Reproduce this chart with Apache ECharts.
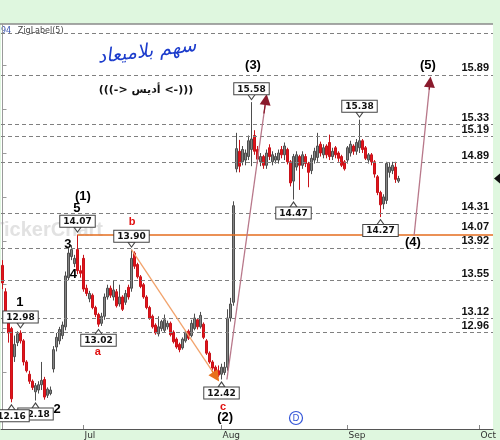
<!DOCTYPE html>
<html><head><meta charset="utf-8">
<script src="https://cdn.jsdelivr.net/npm/echarts@6/dist/echarts.min.js"></script>
<style>html,body{margin:0;padding:0;background:#dff7df;}#c{width:500px;height:440px;}</style>
</head><body><div id="c"></div>
<script>
// ---- trading days (two half-day bars per day) ----
const monthNames = ['Jun','Jul','Aug','Sep','Oct'];
const juneDays = [3,4,5,6,9,10,11,12,23,24,25,26,27,30];
const julyDays = [1,2,3,4,7,8,9,10,11,14,15,16,17,18,21,22,23,24,25,28,29,30,31];
const augDays  = [1,4,5,6,7,8,11,12,13,14,15,18,19,20,21,22,25,26,27,28,29];
const sepDays  = [1,2,3,4,5,8,9,10,11,12,15,16,17,18,19,22,23,24,25,26,29,30];
const octDays  = [1,2,3];

// ---- candles: [open, close, low, high] ----
const candles = [
 [13.72,13.52,13.45,13.78],[13.42,13.15,13.10,13.46],[13.12,12.95,12.84,13.14],[13.00,12.20,12.16,13.02],
 [12.68,12.82,12.62,12.92],[12.84,12.94,12.80,12.97],[12.95,12.86,12.83,12.98],[12.86,12.62,12.58,12.88],
 [12.62,12.52,12.50,12.64],[12.48,12.40,12.37,12.52],[12.40,12.33,12.30,12.42],[12.28,12.35,12.18,12.38],
 [12.30,12.36,12.26,12.40],[12.36,12.41,12.30,12.62],[12.42,12.22,12.19,12.45],[12.24,12.31,12.21,12.33],
 [12.26,12.30,12.24,12.34],[12.54,12.76,12.50,12.80],[12.79,12.90,12.74,12.95],[12.86,12.99,12.82,13.02],
 [12.92,13.04,12.88,13.08],[13.02,13.60,12.98,13.65],[13.58,13.86,13.55,13.92],[13.82,13.90,13.78,13.95],
 [13.74,13.80,13.70,13.84],[13.90,13.66,13.62,14.07],[13.66,13.63,13.58,13.72],[13.80,13.45,13.42,13.84],
 [13.46,13.40,13.37,13.50],[13.34,13.40,13.30,13.43],[13.38,13.24,13.22,13.40],[13.24,13.16,13.13,13.26],
 [13.16,13.05,13.02,13.18],[13.06,13.14,13.03,13.18],[13.14,13.36,13.10,13.40],[13.36,13.46,13.33,13.50],
 [13.46,13.38,13.35,13.49],[13.36,13.44,13.32,13.55],[13.42,13.26,13.24,13.45],[13.28,13.36,13.25,13.50],
 [13.36,13.22,13.20,13.38],[13.30,13.40,13.27,13.44],[13.47,13.36,13.33,13.50],[13.46,13.80,13.42,13.90],
 [13.86,13.71,13.68,13.88],[13.73,13.59,13.57,13.75],[13.59,13.48,13.46,13.61],[13.50,13.36,13.34,13.52],
 [13.36,13.24,13.22,13.38],[13.24,13.12,13.10,13.26],[13.14,13.02,13.00,13.16],[13.04,12.95,12.93,13.06],
 [12.94,13.02,12.91,13.14],[13.00,13.08,12.97,13.10],[12.98,13.10,12.96,13.16],[13.02,13.06,12.99,13.09],
 [13.06,12.93,12.91,13.08],[12.96,12.85,12.83,12.98],[12.88,12.79,12.77,12.90],[12.82,12.76,12.73,12.84],
 [12.78,12.88,12.76,12.90],[12.86,12.96,12.84,12.98],[12.97,12.89,12.87,12.99],[12.92,13.06,12.90,13.10],
 [13.00,13.12,12.98,13.17],[13.10,13.02,12.99,13.12],[13.02,13.15,13.00,13.19],[13.05,12.90,12.88,13.07],
 [12.86,12.72,12.70,12.88],[12.72,12.62,12.60,12.74],[12.62,12.55,12.53,12.64],[12.56,12.49,12.46,12.58],
 [12.52,12.47,12.45,12.58],[12.48,12.56,12.42,12.60],[12.50,12.56,12.47,12.62],[12.56,13.12,12.52,13.22],
 [13.12,13.28,13.08,13.35],[13.30,14.40,13.26,14.45],[14.82,15.05,14.78,15.23],[15.02,14.85,14.78,15.15],
 [14.90,15.04,14.86,15.08],[14.92,15.00,14.86,15.04],[14.96,15.14,14.92,15.20],[15.04,15.16,14.85,15.58],
 [15.20,15.02,14.98,15.26],[15.04,14.93,14.88,15.08],[14.90,14.96,14.85,15.00],[14.96,14.86,14.82,14.98],
 [14.86,15.00,14.82,15.04],[15.06,14.96,14.92,15.10],[14.90,14.98,14.86,15.02],[14.92,14.96,14.88,15.00],
 [14.92,15.00,14.88,15.04],[15.04,14.98,14.94,15.08],[14.98,15.08,14.92,15.12],[15.04,14.90,14.87,15.06],
 [14.90,14.66,14.62,14.92],[14.68,14.96,14.47,14.99],[14.84,14.98,14.80,15.02],[14.96,14.86,14.58,14.98],
 [14.86,14.98,14.82,15.02],[14.96,14.88,14.84,14.99],[14.88,14.78,14.61,14.90],[14.80,14.94,14.76,14.98],
 [14.92,15.02,14.88,15.06],[14.95,15.08,14.90,15.23],[15.10,15.00,14.96,15.13],[14.98,15.06,14.94,15.10],
 [15.08,14.98,14.94,15.10],[15.12,14.96,14.92,15.21],[14.96,15.02,14.92,15.06],[15.06,14.98,14.94,15.08],
 [15.00,14.94,14.90,15.02],[14.96,14.86,14.84,14.98],[14.90,14.82,14.80,14.92],[14.92,15.06,14.88,15.08],
 [15.00,15.10,14.96,15.14],[15.08,15.02,14.98,15.10],[15.02,15.12,14.98,15.16],[15.06,15.14,15.00,15.38],
 [15.14,15.04,15.00,15.16],[15.06,14.94,14.92,15.08],[14.92,14.98,14.88,15.00],[14.98,14.90,14.86,15.00],
 [14.90,14.76,14.72,14.92],[14.73,14.55,14.52,14.75],[14.55,14.41,14.27,14.57],[14.42,14.50,14.36,14.53],
 [14.46,14.88,14.42,14.90],[14.78,14.84,14.72,14.89],[14.80,14.86,14.76,14.90],[14.84,14.70,14.66,14.90],
 [14.68,14.71,14.66,14.74]
];

// ---- annotations ----
const pivotHighIdx = [6, 25, 43, 83, 119];
const pivotLowIdx  = [11, 3, 32, 73, 97, 126];
const levelLines   = [15.89, 15.33, 15.19, 14.89, 14.31, 13.92, 13.55, 13.12, 12.96];
const upperLine    = 16.37;
const orangeLevel  = 14.07;
const orangeStart  = 25;
const rightTicks   = [12, 12.5, 13, 13.5, 14, 14.5, 15, 15.5, 16];
const waveLabels = [['(1)',26.8,14.50],['5',24.8,14.37],['3',21.8,13.96],['4',23.6,13.62],['1',5.8,13.30],
                    ['2',18.2,12.08],['(2)',74.2,11.99],['(3)',83.5,16.00],['(4)',136.8,13.98],['(5)',141.8,16.00]];
const abcLabels  = [['a',31.8,12.73],['b',43.2,14.21],['c',73.5,12.11]];
// arrows: [fromIdx, fromVal, toIdx, toVal]
const orangeArrow = [43, 13.90, 71.2, 12.45];
const waveArrows  = [[74.8, 12.42, 87.8, 15.61], [137.2, 14.06, 142.5, 15.81]];

// ---- build categories ----
const monthDays = [juneDays, julyDays, augDays, sepDays, octDays];
let cats = [];
const monthStart = new Set();
monthDays.forEach((days, m) => {
  days.forEach((d, k) => {
    if (k === 0 && m > 0) monthStart.add(cats.length - 1);
    cats.push(monthNames[m] + ' ' + d + ' 1');
    cats.push(monthNames[m] + ' ' + d + ' 2');
  });
});
cats = cats.slice(1, 165);

const chart = echarts.init(document.getElementById('c'), null, {renderer: 'canvas'});

const dn = 'path://M0,0L10,0L5,7Z';
const up = 'path://M5,0L10,7L0,7Z';
const boxLabel = {show: true, formatter: p => p.value, backgroundColor: '#fff', borderColor: '#444', borderWidth: 1,
  padding: [1, 3, 0, 3], fontSize: 9, fontWeight: 'bold', fontFamily: 'DejaVu Sans', color: '#111', lineHeight: 10, distance: 0};

function arrowData(a, lineColor, headColor, size) {
  const t = 0.05;
  const hx = a[2] - (a[2] - a[0]) * t, hy = a[3] - (a[3] - a[1]) * t;
  const ls = c => ({color: c, width: 1.3, type: 'solid'});
  return [
    [{coord: [a[0], a[1]], symbol: 'none', lineStyle: ls(lineColor)},
     {coord: [a[2], a[3]], symbol: 'none', lineStyle: ls(lineColor)}],
    [{coord: [hx, hy], symbol: 'none', lineStyle: ls(headColor)},
     {coord: [a[2], a[3]], symbol: 'triangle', symbolSize: size, lineStyle: ls(headColor)}]
  ];
}

const arrowLines = [].concat(
  arrowData(orangeArrow, '#f2a36c', '#e8701a', 11),
  arrowData(waveArrows[0], '#b8788a', '#8a1a2c', 11),
  arrowData(waveArrows[1], '#b8788a', '#8a1a2c', 11)
);

const hidden = {color: 'rgba(0,0,0,0)', opacity: 1};

const option = {
  animation: false,
  backgroundColor: '#dff7df',
  grid: {left: 1, right: 7, top: 24, bottom: 10},
  xAxis: [{
    type: 'category', data: cats, boundaryGap: true,
    axisLine: {show: true, lineStyle: {color: '#555', width: 1}},
    axisTick: {show: true, alignWithLabel: true, inside: true, length: 4, interval: i => monthStart.has(i), lineStyle: {color: '#888'}},
    axisLabel: {show: true, interval: i => monthStart.has(i), formatter: v => v.split(' ')[0], align: 'left',
      margin: 2, padding: [0, 0, 0, 1], fontSize: 9, color: '#333', fontFamily: 'DejaVu Sans'},
    splitLine: {show: false}
  }, {
    type: 'value', min: -0.5, max: 163.5, show: false
  }],
  yAxis: {
    type: 'value', position: 'right', min: 11.856, max: 16.47,
    splitLine: {show: false},
    axisLine: {show: true, lineStyle: {color: '#9a9a9a'}},
    axisTick: {show: true, customValues: rightTicks, length: 4, lineStyle: {color: '#9a9a9a'}},
    axisLabel: {show: false}
  },
  graphic: [
    {id: 'plotbg', type: 'rect', z: -10, silent: true, shape: {x: 1, y: 24, width: 492, height: 406}, style: {fill: '#fff'}},
    {id: 'wm', type: 'text', z: -9, silent: true, style: {text: 'TickerChart', x: 103, y: 230, align: 'right', verticalAlign: 'middle',
      font: 'bold 20px "Liberation Sans"', fill: '#e2e2e2'}},
    {id: 'topline', type: 'line', z: -8, silent: true, shape: {x1: 0, y1: 24, x2: 493, y2: 24}, style: {stroke: '#8a8a8a', lineWidth: 1.5}},
    {id: 'zig', type: 'text', silent: true, style: {text: '{a|94}  {b|ZigLabel(5)}', x: 1, y: 25,
      rich: {a: {fill: '#3a55b0', font: '8px "DejaVu Sans"'}, b: {fill: '#444', font: '8px "DejaVu Sans"'}}}},
    {id: 'ar1', type: 'text', silent: true, x: 147, y: 52, rotation: 0.12, style: {text: 'سهم بلاميعاد', x: 0, y: 0, align: 'center',
      verticalAlign: 'middle', font: 'italic 19px "DejaVu Sans"', fill: '#1c3ccc'}},
    {id: 'ar2', type: 'text', silent: true, x: 146, y: 90, style: {text: '(((-> أديس <-)))', x: 0, y: 0, align: 'center',
      verticalAlign: 'middle', font: 'bold 11px "DejaVu Sans"', fill: '#111'}},
    {id: 'dcirc', type: 'circle', silent: true, z: 5, shape: {cx: 296, cy: 418, r: 6.5}, style: {fill: '#fff', stroke: '#3556d8', lineWidth: 1.2}},
    {id: 'dtxt', type: 'text', silent: true, z: 6, style: {text: 'D', x: 296, y: 418.5, align: 'center', verticalAlign: 'middle',
      font: '9px "DejaVu Sans"', fill: '#3556d8'}}
  ],
  series: [{
    type: 'candlestick', name: 'price', data: candles, barWidth: 2,
    itemStyle: {color: '#858585', color0: '#e3141b', borderColor: '#4e4e4e', borderColor0: '#c81219', borderWidth: 1},
    markLine: {
      silent: true, symbol: 'none', animation: false,
      lineStyle: {color: '#808080', type: [4, 3], width: 1},
      label: {show: true, position: 'insideEndTop', distance: [4, 1], formatter: p => p.value.toFixed(2),
        fontSize: 11, fontWeight: 'bold', color: '#111', fontFamily: 'Liberation Sans'},
      data: levelLines.map(v => ({yAxis: v})).concat([{yAxis: upperLine, label: {show: false}}])
    },
    markPoint: {
      silent: true, animation: false,
      itemStyle: {color: '#fff', borderColor: '#444', borderWidth: 1},
      label: boxLabel,
      data: pivotHighIdx.map(i => ({coord: [i, candles[i][3]], value: candles[i][3].toFixed(2), symbol: dn,
              symbolSize: [7, 5], symbolOffset: [0, -5], label: {position: 'top'}}))
        .concat(pivotLowIdx.map(i => ({coord: [i, candles[i][2]], value: candles[i][2].toFixed(2), symbol: up,
              symbolSize: [7, 5], symbolOffset: [0, 5], label: {position: 'bottom'}})))
    }
  }, {
    type: 'line', name: 'orange', xAxisIndex: 1, data: [],
    markLine: {
      silent: true, symbol: 'none', animation: false,
      lineStyle: {color: '#e46c1e', width: 1.6, type: 'solid'},
      label: {show: true, position: 'insideEndTop', distance: [4, 2], formatter: () => orangeLevel.toFixed(2),
        fontSize: 11, fontWeight: 'bold', color: '#111', fontFamily: 'Liberation Sans'},
      data: [[{coord: [orangeStart, orangeLevel]}, {coord: [163.5, orangeLevel]}]]
    }
  }, {
    type: 'line', name: 'arrows', xAxisIndex: 1, data: [],
    markLine: {silent: true, animation: false, label: {show: false}, lineStyle: {type: 'solid'}, data: arrowLines}
  }, {
    type: 'scatter', name: 'waves', xAxisIndex: 1, silent: true, z: 6, symbolSize: 2, itemStyle: hidden,
    data: waveLabels.map(w => ({name: w[0], value: [w[1], w[2]]})),
    label: {show: true, position: 'inside', opacity: 1, formatter: p => p.name, color: '#000', fontWeight: 'bold', fontSize: 13, fontFamily: 'Liberation Sans'}
  }, {
    type: 'scatter', name: 'abc', xAxisIndex: 1, silent: true, z: 7, symbolSize: 2, itemStyle: hidden,
    data: abcLabels.map(w => ({name: w[0], value: [w[1], w[2]]})),
    label: {show: true, position: 'inside', opacity: 1, formatter: p => p.name, color: '#e01010', fontWeight: 'bold', fontSize: 11, fontFamily: 'Liberation Sans'}
  }]
};
chart.setOption(option);

const lastClose = candles[candles.length - 1][1];
const yLast = chart.convertToPixel({yAxisIndex: 0}, lastClose);
chart.setOption({graphic: [{id: 'lastPrice', type: 'polygon', silent: true, z: 10,
  shape: {points: [[494, yLast], [500, yLast - 5], [500, yLast + 5]]}, style: {fill: '#111'}}]});
</script></body></html>
